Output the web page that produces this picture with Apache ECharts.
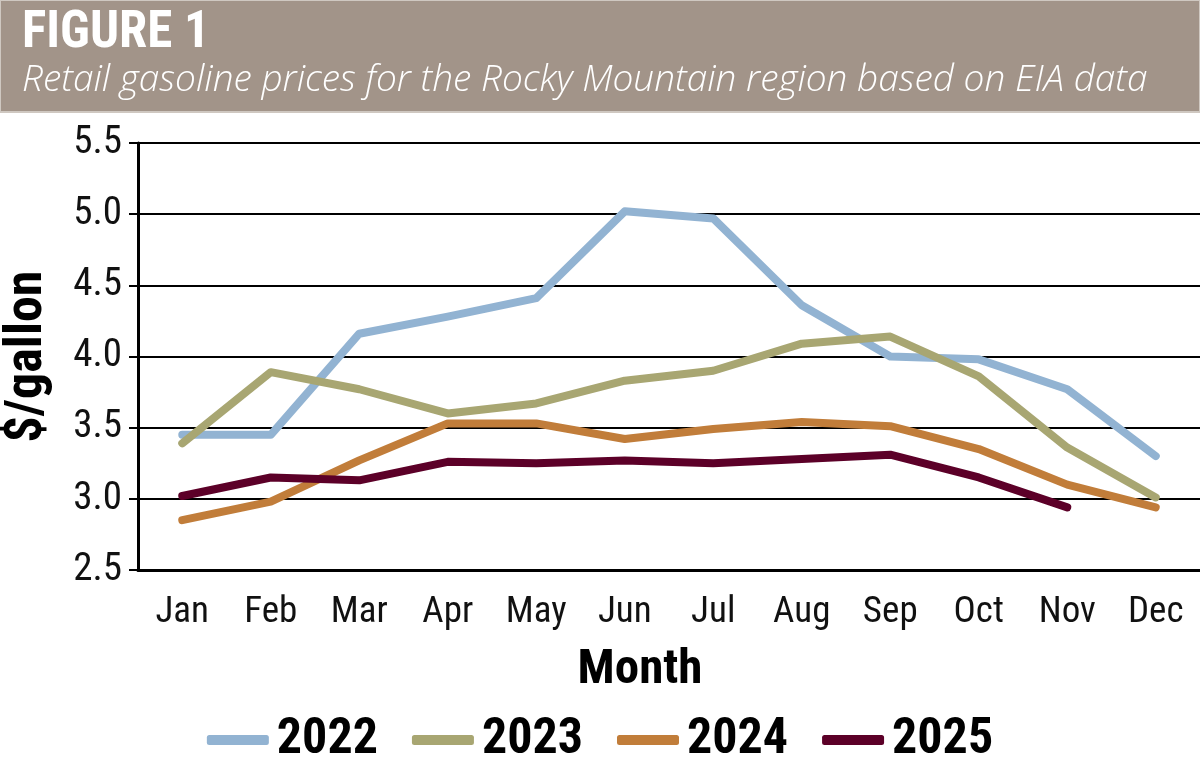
<!DOCTYPE html>
<html>
<head>
<meta charset="utf-8">
<script src="https://cdn.jsdelivr.net/npm/echarts@6/dist/echarts.min.js"></script>
<style>
  html, body { margin: 0; padding: 0; background: #fff; }
  #chart { width: 1200px; height: 772px; }
</style>
</head>
<body>
<div id="chart"></div>
<script>
// data ($/gallon)
const months = ['Jan', 'Feb', 'Mar', 'Apr', 'May', 'Jun', 'Jul', 'Aug', 'Sep', 'Oct', 'Nov', 'Dec'];
const years = ['2022', '2023', '2024', '2025'];
const prices2022 = [3.45, 3.45, 4.16, 4.28, 4.41, 5.02, 4.97, 4.36, 4.00, 3.98, 3.77, 3.30];
const prices2023 = [3.39, 3.89, 3.77, 3.60, 3.67, 3.83, 3.90, 4.09, 4.14, 3.86, 3.36, 3.01];
const prices2024 = [2.85, 2.98, 3.27, 3.53, 3.53, 3.42, 3.49, 3.54, 3.51, 3.35, 3.10, 2.94];
const prices2025 = [3.02, 3.15, 3.13, 3.26, 3.25, 3.27, 3.25, 3.28, 3.31, 3.15, 2.94];
const yTicks = [2.5, 3.0, 3.5, 4.0, 4.5, 5.0, 5.5];

const colors = ['#92b3d2', '#a8a672', '#c17d3a', '#5c0028'];
const narrow = '"Liberation Sans Narrow", "Arial Narrow", "Roboto Condensed", sans-serif';

const chart = echarts.init(document.getElementById('chart'), null, { renderer: 'canvas' });

const mkSeries = (name, data, color) => ({
  name,
  type: 'line',
  data,
  symbol: 'none',
  smooth: false,
  lineStyle: { width: 8, color, cap: 'round', join: 'round' },
  itemStyle: { color },
  z: 3,
});

const option = {
  animation: false,
  backgroundColor: '#fff',
  color: colors,
  graphic: [
    {
      type: 'rect',
      shape: { x: 0, y: 0, width: 1200, height: 112 },
      style: { fill: '#a29489', stroke: '#cfc8c1', lineWidth: 2 },
      z: 0,
    },
    {
      type: 'text',
      left: 22,
      top: 9,
      style: { text: 'FIGURE 1', fill: '#fff', font: 'bold 51px ' + narrow },
    },
    {
      type: 'text',
      left: 22,
      top: 62,
      style: {
        text: 'Retail gasoline prices for the Rocky Mountain region based on EIA data',
        fill: '#fff',
        font: 'italic 300 37px "Open Sans", sans-serif',
      },
    },
  ],
  legend: {
    bottom: 2,
    left: 'center',
    itemWidth: 62,
    itemHeight: 10,
    itemGap: 34,
    icon: 'roundRect',
    data: years,
    textStyle: { fontFamily: narrow, fontWeight: 'bold', fontSize: 50, color: '#000', padding: [0, 0, 0, 3] },
  },
  grid: { left: 138, right: 0, top: 143, bottom: 202, containLabel: false, outerBoundsMode: 'none' },
  xAxis: {
    type: 'category',
    data: months,
    boundaryGap: true,
    name: 'Month',
    nameLocation: 'middle',
    nameGap: 76,
    nameTextStyle: { fontFamily: narrow, fontWeight: 'bold', fontSize: 49, color: '#000', padding: [0, 58, 0, 0] },
    axisLine: { show: true, lineStyle: { color: '#000', width: 3 } },
    axisTick: { show: false },
    axisLabel: { fontFamily: narrow, fontSize: 37, color: '#111', margin: 24 },
  },
  yAxis: {
    type: 'value',
    min: 2.5,
    max: 5.5,
    interval: 0.5,
    name: '$/gallon',
    nameLocation: 'middle',
    nameGap: 84,
    nameRotate: 90,
    nameTextStyle: { fontFamily: narrow, fontWeight: 'bold', fontSize: 52, color: '#000' },
    axisLine: { show: true, lineStyle: { color: '#000', width: 3 } },
    axisTick: { show: true, length: 9, lineStyle: { color: '#000', width: 2 } },
    axisLabel: {
      fontFamily: narrow,
      fontSize: 39,
      color: '#111',
      margin: 16,
      formatter: (v) => (yTicks.includes(v) ? v.toFixed(1) : ''),
    },
    splitLine: { show: true, lineStyle: { color: '#000', width: 2 } },
  },
  series: [
    mkSeries('2022', prices2022, colors[0]),
    mkSeries('2023', prices2023, colors[1]),
    mkSeries('2024', prices2024, colors[2]),
    mkSeries('2025', prices2025, colors[3]),
  ],
};

chart.setOption(option);
</script>
</body>
</html>
